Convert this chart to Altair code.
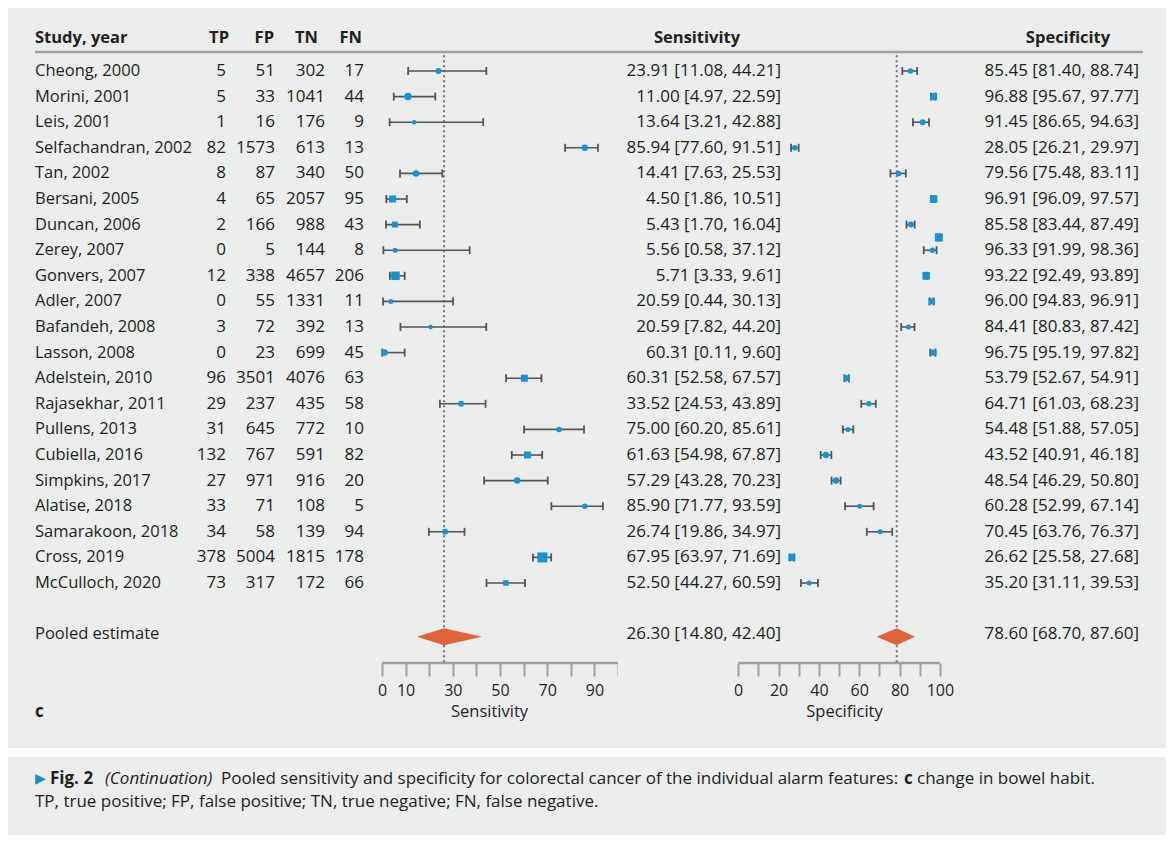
import altair as alt
import pandas as pd

# ---------------- data ----------------
studies = ["Cheong, 2000", "Morini, 2001", "Leis, 2001", "Selfachandran, 2002", "Tan, 2002",
           "Bersani, 2005", "Duncan, 2006", "Zerey, 2007", "Gonvers, 2007", "Adler, 2007",
           "Bafandeh, 2008", "Lasson, 2008", "Adelstein, 2010", "Rajasekhar, 2011", "Pullens, 2013",
           "Cubiella, 2016", "Simpkins, 2017", "Alatise, 2018", "Samarakoon, 2018", "Cross, 2019",
           "McCulloch, 2020"]
tp = [5, 5, 1, 82, 8, 4, 2, 0, 12, 0, 3, 0, 96, 29, 31, 132, 27, 33, 34, 378, 73]
fp = [51, 33, 16, 1573, 87, 65, 166, 5, 338, 55, 72, 23, 3501, 237, 645, 767, 971, 71, 58, 5004, 317]
tn = [302, 1041, 176, 613, 340, 2057, 988, 144, 4657, 1331, 392, 699, 4076, 435, 772, 591, 916, 108, 139, 1815, 172]
fn = [17, 44, 9, 13, 50, 95, 43, 8, 206, 11, 13, 45, 63, 58, 10, 82, 20, 5, 94, 178, 66]

sens_label = ["23.91 [11.08, 44.21]", "11.00 [4.97, 22.59]", "13.64 [3.21, 42.88]", "85.94 [77.60, 91.51]",
              "14.41 [7.63, 25.53]", "4.50 [1.86, 10.51]", "5.43 [1.70, 16.04]", "5.56 [0.58, 37.12]",
              "5.71 [3.33, 9.61]", "20.59 [0.44, 30.13]", "20.59 [7.82, 44.20]", "60.31 [0.11, 9.60]",
              "60.31 [52.58, 67.57]", "33.52 [24.53, 43.89]", "75.00 [60.20, 85.61]", "61.63 [54.98, 67.87]",
              "57.29 [43.28, 70.23]", "85.90 [71.77, 93.59]", "26.74 [19.86, 34.97]", "67.95 [63.97, 71.69]",
              "52.50 [44.27, 60.59]"]
spec_label = ["85.45 [81.40, 88.74]", "96.88 [95.67, 97.77]", "91.45 [86.65, 94.63]", "28.05 [26.21, 29.97]",
              "79.56 [75.48, 83.11]", "96.91 [96.09, 97.57]", "85.58 [83.44, 87.49]", "96.33 [91.99, 98.36]",
              "93.22 [92.49, 93.89]", "96.00 [94.83, 96.91]", "84.41 [80.83, 87.42]", "96.75 [95.19, 97.82]",
              "53.79 [52.67, 54.91]", "64.71 [61.03, 68.23]", "54.48 [51.88, 57.05]", "43.52 [40.91, 46.18]",
              "48.54 [46.29, 50.80]", "60.28 [52.99, 67.14]", "70.45 [63.76, 76.37]", "26.62 [25.58, 27.68]",
              "35.20 [31.11, 39.53]"]

# plotted estimates (as drawn in the figure)
sens_est = [23.91, 11.00, 13.64, 85.94, 14.41, 4.50, 5.43, 5.56, 5.71, 3.7, 20.59, 1.1,
            60.31, 33.52, 75.00, 61.63, 57.29, 85.90, 26.74, 67.95, 52.50]
sens_lo = [11.08, 4.97, 3.21, 77.60, 7.63, 1.86, 1.70, 0.58, 3.33, 0.44, 7.82, 0.11,
           52.58, 24.53, 60.20, 54.98, 43.28, 71.77, 19.86, 63.97, 44.27]
sens_hi = [44.21, 22.59, 42.88, 91.51, 25.53, 10.51, 16.04, 37.12, 9.61, 30.13, 44.20, 9.60,
           67.57, 43.89, 85.61, 67.87, 70.23, 93.59, 34.97, 71.69, 60.59]
spec_est = [85.45, 96.88, 91.45, 28.05, 79.56, 96.91, 85.58, 96.33, 93.22, 96.00, 84.41, 96.75,
            53.79, 64.71, 54.48, 43.52, 48.54, 60.28, 70.45, 26.62, 35.20]
spec_lo = [81.40, 95.67, 86.65, 26.21, 75.48, 96.09, 83.44, 91.99, 92.49, 94.83, 80.83, 95.19,
           52.67, 61.03, 51.88, 40.91, 46.29, 52.99, 63.76, 25.58, 31.11]
spec_hi = [88.74, 97.77, 94.63, 29.97, 83.11, 97.57, 87.49, 98.36, 93.89, 96.91, 87.42, 97.82,
           54.91, 68.23, 57.05, 46.18, 50.80, 67.14, 76.37, 27.68, 39.53]

# stray marker drawn between Duncan and Zerey in the specificity panel
spec_extra_row = [6.5]
spec_extra_est = [99.5]
spec_extra_lo = [98.7]
spec_extra_hi = [100.0]

pooled_sens = [26.30, 14.80, 42.40]
pooled_spec = [78.60, 68.70, 87.60]
pooled_sens_label = "26.30 [14.80, 42.40]"
pooled_spec_label = "78.60 [68.70, 87.60]"

# marker styles (shape, symbol width in px)
sens_shape = ["circle", "circle", "circle", "circle", "circle", "square", "square", "circle", "square", "circle",
              "circle", "circle", "square", "circle", "circle", "square", "circle", "circle", "circle", "square", "square"]
sens_px = [6, 7.5, 4.5, 6.5, 6.5, 7, 6, 5, 8.5, 5, 4.5, 6.5, 7, 6, 5.5, 7, 6.5, 5.5, 6, 10, 5.5]
spec_shape = ["circle", "square", "circle", "circle", "circle", "square", "circle", "circle", "square", "square",
              "circle", "square", "square", "circle", "circle", "circle", "circle", "circle", "circle", "square", "circle"]
spec_px = [5.5, 7, 6, 5.5, 5.5, 7.5, 6, 5.5, 7.5, 6, 5, 6, 6, 5.5, 5, 6.5, 6.5, 5, 5, 7, 5]

# ---------------- style / layout ----------------
FONT = "Open Sans"
GRAY = "#ebecec"
TEXT = "#231f20"
BLUE = "#1692d6"
ORANGE = "#e0643b"
CI_C = "#555555"
AX_C = "#a0a0a0"
H = 740
ROW0 = 63.0
ROWH = 25.6
HEADER_ROW = -1.29
HEADER_LINE_ROW = -0.742
REF_TOP_ROW = -0.62
AXIS_ROW = 23.125
POOLED_ROW = 22.0
DIAMOND_ROW = 22.1
C_ROW = 25.04

yscale = alt.Scale(domain=[-ROW0 / ROWH, (H - ROW0) / ROWH], reverse=True, nice=False, zero=False)


def Y(f):
    return alt.Y(f, type="quantitative", scale=yscale, axis=None)


n = len(studies)
rows = list(range(n))
df = pd.DataFrame({
    "row": rows, "study": studies, "tp": tp, "fp": fp, "tn": tn, "fn": fn,
    "sens_label": sens_label, "spec_label": spec_label,
    "sens_est": sens_est, "sens_lo": sens_lo, "sens_hi": sens_hi,
    "spec_est": spec_est, "spec_lo": spec_lo, "spec_hi": spec_hi,
    "sens_shape": sens_shape, "sens_sz": [p * p for p in sens_px],
    "spec_shape": spec_shape, "spec_sz": [p * p for p in spec_px],
})
extra = pd.DataFrame({"row": spec_extra_row, "spec_est": spec_extra_est, "spec_lo": spec_extra_lo,
                      "spec_hi": spec_extra_hi, "spec_shape": ["square"], "spec_sz": [8 * 8]})
header = pd.DataFrame({"row": [HEADER_ROW], "study": ["Study, year"], "tp": ["TP"], "fp": ["FP"],
                       "tn": ["TN"], "fn": ["FN"], "sens": ["Sensitivity"], "spec": ["Specificity"]})
hline = pd.DataFrame({"row": [HEADER_LINE_ROW]})
pooled = pd.DataFrame({"row": [POOLED_ROW], "label": ["Pooled estimate"], "sens": [pooled_sens_label],
                       "spec": [pooled_spec_label]})
cdf = pd.DataFrame({"row": [C_ROW], "t": ["c"]})


def txt(data, field, x, align, size=16.5, weight="normal", style="normal", row="row"):
    return alt.Chart(data).mark_text(align=align, baseline="middle", font=FONT, fontSize=size,
                                     fontWeight=weight, fontStyle=style, color=TEXT).encode(
        x=alt.value(x), y=Y(row), text=alt.Text(field, type="nominal"))


def hrule(x0, x1):
    return alt.Chart(hline).mark_rule(color=AX_C, strokeWidth=2.5).encode(
        x=alt.value(x0), x2=alt.value(x1), y=Y("row"))


# ---------------- panel A: table ----------------
WA = 374
panelA = alt.layer(
    hrule(27, WA),
    txt(header, "study", 27, "left", weight="bold"),
    txt(header, "tp", 221, "right", weight="bold"),
    txt(header, "fp", 266, "right", weight="bold"),
    txt(header, "tn", 310, "right", weight="bold"),
    txt(header, "fn", 354, "right", weight="bold"),
    txt(df, "study", 27, "left"),
    txt(df, "tp", 218, "right", size=17),
    txt(df, "fp", 267, "right", size=17),
    txt(df, "tn", 317, "right", size=17),
    txt(df, "fn", 356, "right", size=17),
    txt(pooled, "label", 27, "left"),
    txt(cdf, "t", 27, "left", weight="bold", size=17),
).properties(width=WA, height=H)


# ---------------- forest helpers ----------------
def forest_layers(prefix, data, xs, axis, pooled_vals, extra_data=None):
    def X(f):
        return alt.X(f, type="quantitative", scale=xs, axis=axis)

    est, lo, hi = prefix + "_est", prefix + "_lo", prefix + "_hi"
    ref = pd.DataFrame({"x": [pooled_vals[0]], "r1": [REF_TOP_ROW], "r2": [AXIS_ROW]})
    axl = pd.DataFrame({"a": [0], "b": [100], "row": [AXIS_ROW]})
    dia = pd.DataFrame({
        "x": [pooled_vals[1], pooled_vals[0], pooled_vals[2]],
        "yt": [DIAMOND_ROW, DIAMOND_ROW - 0.33, DIAMOND_ROW],
        "yb": [DIAMOND_ROW, DIAMOND_ROW + 0.33, DIAMOND_ROW],
    })
    layers = []
    sets = [data] if extra_data is None else [data, extra_data]
    layers.append(alt.Chart(axl).mark_rule(color=AX_C, strokeWidth=2.5).encode(
        x=X("a"), x2=alt.X2("b"), y=Y("row")))
    layers.append(alt.Chart(ref).mark_rule(color="#707070", strokeWidth=2, strokeDash=[2, 3]).encode(
        x=X("x"), y=Y("r1"), y2=alt.Y2("r2")))
    for d in sets:
        layers.append(alt.Chart(d).mark_rule(color=CI_C, strokeWidth=1.6).encode(
            x=X(lo), x2=alt.X2(hi), y=Y("row")))
        layers.append(alt.Chart(d).transform_fold([lo, hi], as_=["end", "xv"]).mark_rule(
            color=CI_C, strokeWidth=1.8, yOffset=-4, y2Offset=4).encode(
            x=X("xv:Q"), y=Y("row"), y2=alt.Y2("row")))
        layers.append(alt.Chart(d).mark_point(filled=True, opacity=1, color=BLUE, strokeWidth=0).encode(
            x=X(est), y=Y("row"),
            shape=alt.Shape(prefix + "_shape", type="nominal", scale=None),
            size=alt.Size(prefix + "_sz", type="quantitative", scale=None)))
    layers.append(alt.Chart(dia).mark_area(orient="vertical", color=ORANGE, opacity=1).encode(
        x=X("x"), y=Y("yt"), y2=alt.Y2("yb")))
    return layers


def make_axis(title, label_vals, title_x):
    vals = "[" + ",".join(str(v) for v in label_vals) + "]"
    return alt.Axis(values=list(range(0, 101, 10)),
                    labelExpr="indexof(" + vals + ", datum.value) >= 0 ? datum.label : ''",
                    domain=False, grid=False, ticks=True, tickColor=AX_C, tickWidth=2, tickSize=13,
                    labelFont=FONT, labelFontSize=16, labelColor=TEXT, labelPadding=6,
                    labelOverlap=False, labelFlush=False, offset=-85,
                    title=title, titleFont=FONT, titleFontSize=16.5, titleFontWeight="normal",
                    titleColor=TEXT, titleX=title_x, titleY=48, titleAlign="center",
                    titleBaseline="middle")


# ---------------- panel B: sensitivity forest ----------------
WB = 236
sens_scale = alt.Scale(domain=[0, 100], nice=False, zero=False)
sens_axis = make_axis("Sensitivity", [0, 10, 30, 50, 70, 90], 107)
panelB = alt.layer(
    hrule(0, WB),
    *forest_layers("sens", df, sens_scale, sens_axis, pooled_sens),
).properties(width=WB, height=H)

# ---------------- panel C: sensitivity values + specificity forest ----------------
WC = 337
spec_scale = alt.Scale(domain=[-59.6, 107.5], nice=False, zero=False)
spec_axis = make_axis("Specificity", [0, 20, 40, 60, 80, 100], 226)
panelC = alt.layer(
    hrule(0, WC),
    txt(header, "sens", 79, "center", weight="bold"),
    txt(df, "sens_label", 163, "right", size=17),
    txt(pooled, "sens", 163, "right", size=17),
    *forest_layers("spec", df, spec_scale, spec_axis, pooled_spec, extra_data=extra),
).properties(width=WC, height=H)

# ---------------- panel D: specificity values ----------------
WD = 211
panelD = alt.layer(
    hrule(0, 188),
    txt(header, "spec", 113, "center", weight="bold"),
    txt(df, "spec_label", 184, "right", size=17),
    txt(pooled, "spec", 184, "right", size=17),
).properties(width=WD, height=H)

top = alt.hconcat(panelA, panelB, panelC, panelD, spacing=0, bounds="flush")

# ---------------- caption ----------------
CAP = 17
cap_segments = [
    ("\u25B6", 27, 22, "normal", "normal", "DejaVu Sans", 14, "#1a8fd0"),
    ("Fig. 2", 42, 22, "bold", "normal", FONT, CAP, TEXT),
    ("(Continuation)", 97, 22, "normal", "italic", FONT, CAP, TEXT),
    ("Pooled sensitivity and specificity for colorectal cancer of the individual alarm features:",
     213, 22, "normal", "normal", FONT, CAP, TEXT),
    ("c", 896, 22, "bold", "normal", FONT, CAP, TEXT),
    ("change in bowel habit.", 909, 22, "normal", "normal", FONT, CAP, TEXT),
    ("TP, true positive; FP, false positive; TN, true negative; FN, false negative.",
     27, 45, "normal", "normal", FONT, CAP, TEXT),
]
cap_layers = []
for (t, x, y, w, s, f, fs, c) in cap_segments:
    cap_layers.append(alt.Chart(pd.DataFrame({"t": [t]})).mark_text(
        align="left", baseline="middle", font=f, fontSize=fs, fontWeight=w, fontStyle=s, color=c).encode(
        x=alt.value(x), y=alt.value(y), text="t:N"))
caption = alt.layer(*cap_layers).properties(width=1158, height=78)

chart = alt.vconcat(top, caption, spacing=9).properties(
    padding={"left": 8, "top": 8, "right": 8, "bottom": 7}
).configure(background="white").configure_view(fill=GRAY, strokeWidth=0)

chart.save("out.html", embed_options={"renderer": "svg", "actions": False})
